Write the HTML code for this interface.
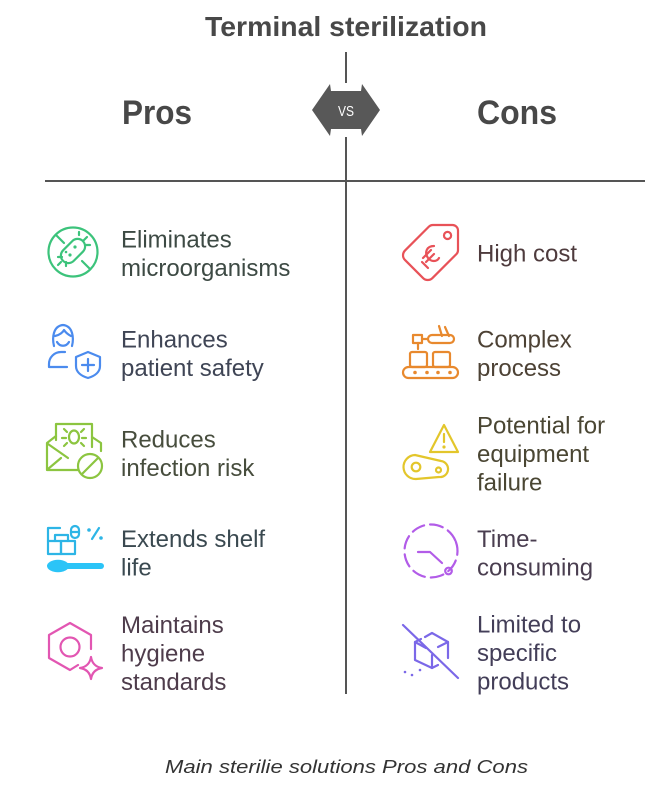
<!DOCTYPE html>
<html><head><meta charset="utf-8"><style>
html,body{margin:0;padding:0;background:#fff;}
svg{display:block;}
text{font-family:"Liberation Sans",sans-serif;}
</style></head><body>
<svg width="667" height="798" viewBox="0 0 667 798" xmlns="http://www.w3.org/2000/svg">
<rect width="667" height="798" fill="#fff"/>
<!-- title & headings -->
<text x="205" y="36" font-size="28" font-weight="bold" fill="#484848" textLength="282" lengthAdjust="spacingAndGlyphs">Terminal sterilization</text>
<text x="122" y="124" font-size="34" font-weight="bold" fill="#484848" textLength="70" lengthAdjust="spacingAndGlyphs">Pros</text>
<text x="477" y="124" font-size="34" font-weight="bold" fill="#484848" textLength="80" lengthAdjust="spacingAndGlyphs">Cons</text>
<!-- lines -->
<g stroke="#555" stroke-width="2">
<line x1="346" y1="52" x2="346" y2="83"/>
<line x1="346" y1="137" x2="346" y2="694"/>
<line x1="45" y1="181" x2="645" y2="181"/>
</g>
<polygon points="312,110 330,84 331,91 361,91 362,84 380,110 362,136 361,129 331,129 330,136" fill="#585858"/>
<text x="346" y="116" font-size="15" fill="#fff" text-anchor="middle" textLength="16" lengthAdjust="spacingAndGlyphs">VS</text>

<!-- LEFT ICONS -->
<!-- bacteria -->
<g fill="none" stroke="#3cc37b" stroke-width="2.2" stroke-linecap="round" stroke-linejoin="round">
<circle cx="73" cy="252" r="24.5"/>
<line x1="56" y1="235" x2="64" y2="243"/>
<line x1="82" y1="261" x2="90" y2="269"/>
<rect x="-14" y="-7.5" width="28" height="15" rx="7.5" transform="translate(73,251) rotate(-45)"/>
<line x1="84" y1="240" x2="87" y2="237"/>
<line x1="86" y1="245" x2="90" y2="245"/>
<line x1="79" y1="235" x2="79" y2="232"/>
<line x1="62" y1="257" x2="58" y2="257"/>
<line x1="66" y1="262" x2="66" y2="266"/>
<line x1="61" y1="262" x2="58" y2="265"/>
</g>
<g fill="#3cc37b"><circle cx="75" cy="247" r="1.6"/><circle cx="70" cy="255" r="1.6"/><circle cx="66" cy="252" r="1.3"/></g>

<!-- person with shield -->
<g fill="none" stroke="#4b8bee" stroke-width="2.2" stroke-linecap="round" stroke-linejoin="round">
<path d="M54 346 C52 338 53 326 63 325 C73 326 74 338 72 346"/>
<path d="M55 336 C60 335 63 332 64 330 C66 333 69 335 71 336"/>
<path d="M57 342 C60 347 66 347 69 342"/>
<path d="M67 367 H49 V364 A12 12 0 0 1 61 352 H65"/>
<path d="M76 357 L88 352 L100 357 V366 C100 372 95 376 88 378 C81 376 76 372 76 366 Z"/>
<line x1="88" y1="359" x2="88" y2="371"/>
<line x1="82" y1="365" x2="94" y2="365"/>
</g>

<!-- reduces infection -->
<g fill="none" stroke="#8cc540" stroke-width="2.2" stroke-linecap="round" stroke-linejoin="round">
<path d="M56 440 V424 H92 V447"/>
<path d="M56 436 L47 443 V470 H78"/>
<path d="M92 437 L101 443 V451"/>
<path d="M48 444 L68 458"/>
<path d="M48 469 L61 458"/>
<circle cx="90" cy="466" r="12"/>
<line x1="82" y1="474" x2="98" y2="458"/>
<ellipse cx="74" cy="437" rx="5" ry="6.5"/>
<line x1="67" y1="432" x2="64" y2="429"/>
<line x1="81" y1="432" x2="84" y2="429"/>
<line x1="66" y1="438" x2="62" y2="438"/>
<line x1="82" y1="438" x2="86" y2="438"/>
<line x1="67" y1="443" x2="64" y2="446"/>
<line x1="81" y1="443" x2="84" y2="446"/>
</g>

<!-- extends shelf life -->
<g fill="none" stroke="#2db5e6" stroke-width="2.2" stroke-linecap="round" stroke-linejoin="round">
<rect x="48" y="541" width="13" height="13"/>
<rect x="61" y="541" width="14" height="13"/>
<path d="M48 541 V528 H60"/>
<path d="M55 541 V535 H68 V541"/>
<rect x="71" y="526" width="8" height="12" rx="4"/>
<line x1="71" y1="532" x2="79" y2="532"/>
<line x1="92" y1="539" x2="99" y2="528"/>
</g>
<g fill="#2db5e6"><circle cx="89" cy="530" r="1.8"/><circle cx="101" cy="538" r="1.8"/></g>
<g fill="#2bc4f7">
<ellipse cx="58" cy="566" rx="11" ry="6.2"/>
<rect x="60" y="563" width="44" height="6" rx="3"/>
</g>

<!-- hygiene -->
<g fill="none" stroke="#e256b2" stroke-width="2.2" stroke-linecap="round" stroke-linejoin="round">
<path d="M78 665 L70 670 L49 658 V635 L70 623 L91 635 V649"/>
<circle cx="70" cy="647" r="9.5"/>
<path d="M91 657 Q92.5 666.5 102 668 Q92.5 669.5 91 679 Q89.5 669.5 80 668 Q89.5 666.5 91 657 Z"/>
</g>

<!-- RIGHT ICONS -->
<!-- tag -->
<g transform="translate(463.5,219.5) scale(-2.75,2.75)" fill="none" stroke="#e85258" stroke-width="0.8" stroke-linejoin="round" stroke-linecap="round">
<path d="M12.586 2.586A2 2 0 0 0 11.172 2H4a2 2 0 0 0-2 2v7.172a2 2 0 0 0 .586 1.414l8.704 8.704a2.426 2.426 0 0 0 3.42 0l6.58-6.58a2.426 2.426 0 0 0 0-3.42z"/>
<circle cx="5.8" cy="5.8" r="1.3"/>
</g>
<g fill="none" stroke="#e85258" stroke-width="2.2" stroke-linecap="round">
<path d="M434 246 C427 246 424 252 428 258 C431 262 437 262 439 258"/>
<line x1="423" y1="258" x2="431" y2="250"/>
<line x1="426" y1="262" x2="434" y2="254"/>
<line x1="422" y1="262" x2="428" y2="268"/>
</g>

<!-- conveyor -->
<g fill="none" stroke="#e8892e" stroke-width="2.2" stroke-linecap="round" stroke-linejoin="round">
<rect x="413" y="335" width="9" height="8"/>
<line x1="418" y1="343" x2="418" y2="349"/>
<path d="M422 339 H428 A4 4 0 0 1 432 335 H450 A4 4 0 0 1 450 343 H432 A4 4 0 0 1 428 339"/>
<line x1="442" y1="336" x2="439" y2="326"/>
<line x1="449" y1="336" x2="445" y2="327"/>
<rect x="410" y="352" width="17" height="15" rx="2"/>
<rect x="433" y="352" width="17" height="15" rx="2"/>
<rect x="403" y="367" width="55" height="11" rx="5.5"/>
</g>
<g fill="#e8892e"><circle cx="415" cy="372.5" r="1.8"/><circle cx="427" cy="372.5" r="1.8"/><circle cx="438" cy="372.5" r="1.8"/><circle cx="450" cy="372.5" r="1.8"/></g>

<!-- equipment -->
<g fill="none" stroke="#e3c62b" stroke-width="2.2" stroke-linecap="round" stroke-linejoin="round">
<path d="M444 425 L458 452 H430 Z"/>
<line x1="444" y1="434" x2="444" y2="442"/>
<path d="M415 455 L441 461 A8 8 0 0 1 439 477 L416 479 A12 12 0 0 1 415 455 Z"/>
<circle cx="416" cy="467" r="4.3"/>
<circle cx="438.5" cy="470" r="2.5"/>
</g>
<circle cx="444" cy="447" r="1.6" fill="#e3c62b"/>

<!-- time -->
<g fill="none" stroke="#b25ce8" stroke-width="2.2" stroke-linecap="round" stroke-linejoin="round">
<circle cx="431" cy="551" r="26.5" stroke-dasharray="13 6" transform="rotate(-20 431 551)"/>
<path d="M418 552 H430 L442 563"/>
<circle cx="448.5" cy="571" r="3.3"/>
</g>

<!-- limited -->
<g fill="none" stroke="#7b68e8" stroke-width="2.2" stroke-linecap="round" stroke-linejoin="round">
<line x1="403" y1="625" x2="458" y2="678"/>
<path d="M425 637 L432 633 L448 642 V658"/>
<path d="M421 639 L415 642 V660 L432 668 L438 665"/>
<path d="M415 642 L426 648"/>
<path d="M438 647 L448 642"/>
<line x1="432" y1="655" x2="432" y2="668"/>
</g>
<g fill="#7b68e8"><circle cx="405" cy="672" r="1.3"/><circle cx="412" cy="675" r="1.3"/><circle cx="420" cy="670" r="1.3"/></g>

<!-- LEFT TEXT -->
<g font-size="24">
<text x="121" y="247.5" fill="#3d4a44">Eliminates</text>
<text x="121" y="276" fill="#3d4a44">microorganisms</text>
<text x="121" y="347.5" fill="#3f4555">Enhances</text>
<text x="121" y="376" fill="#3f4555">patient safety</text>
<text x="121" y="447.5" fill="#474d3d">Reduces</text>
<text x="121" y="476" fill="#474d3d">infection risk</text>
<text x="121" y="547" fill="#3a4950">Extends shelf</text>
<text x="121" y="575.5" fill="#3a4950">life</text>
<text x="121" y="633" fill="#4e3c4b">Maintains</text>
<text x="121" y="661.5" fill="#4e3c4b">hygiene</text>
<text x="121" y="690" fill="#4e3c4b">standards</text>
<!-- RIGHT TEXT -->
<text x="477" y="261.5" fill="#4e3b3d">High cost</text>
<text x="477" y="347.5" fill="#4d4235">Complex</text>
<text x="477" y="376" fill="#4d4235">process</text>
<text x="477" y="433.5" fill="#4a4633">Potential for</text>
<text x="477" y="462" fill="#4a4633">equipment</text>
<text x="477" y="490.5" fill="#4a4633">failure</text>
<text x="477" y="547" fill="#4a3e50">Time-</text>
<text x="477" y="575.5" fill="#4a3e50">consuming</text>
<text x="477" y="632.5" fill="#433e58">Limited to</text>
<text x="477" y="661" fill="#433e58">specific</text>
<text x="477" y="689.5" fill="#433e58">products</text>
</g>

<!-- caption -->
<text x="165" y="773" font-size="18" font-style="italic" fill="#333" textLength="363" lengthAdjust="spacingAndGlyphs">Main sterilie solutions Pros and Cons</text>
</svg>
</body></html>
